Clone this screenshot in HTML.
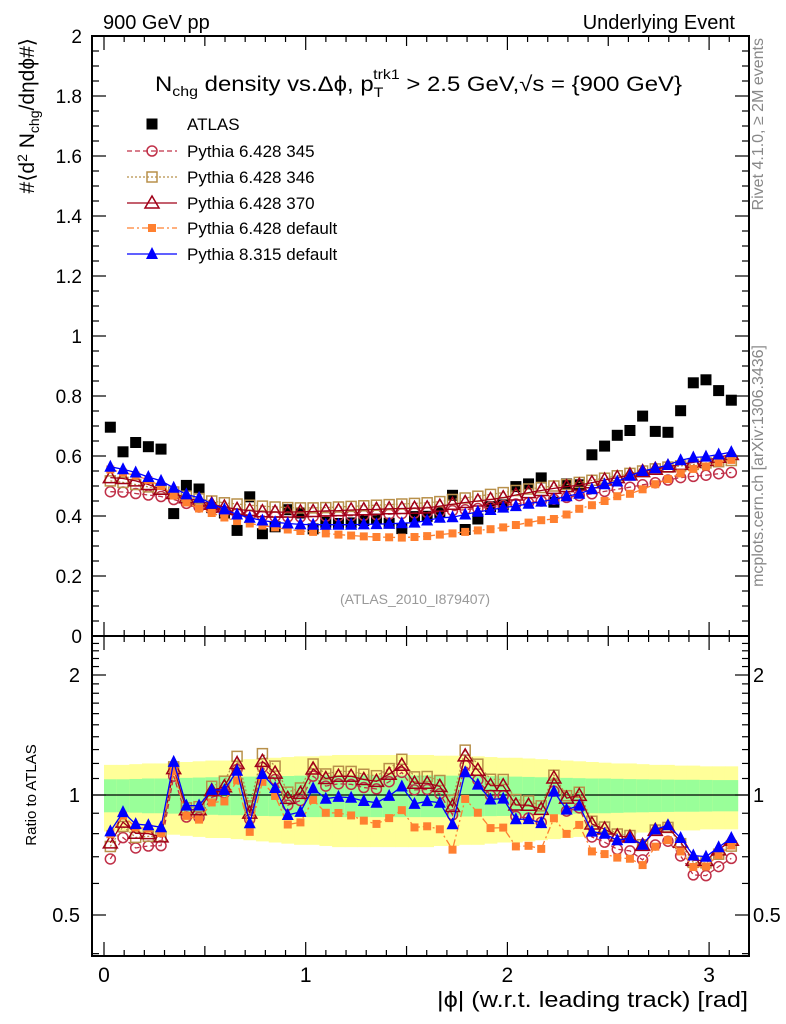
<!DOCTYPE html>
<html><head><meta charset="utf-8"><style>
body{margin:0;background:#fff}
svg{display:block;font-family:"Liberation Sans",sans-serif}
</style></head><body>
<svg id="c" width="786" height="1024" viewBox="0 0 786 1024">
<g id="bands"></g>
<g id="axes"></g>
<g id="series"></g>
<text x="103" y="29" font-size="20">900 GeV pp</text>
<text x="735" y="29" font-size="20" text-anchor="end">Underlying Event</text>
<text x="155" y="91" font-size="21" textLength="527" lengthAdjust="spacingAndGlyphs">N<tspan font-size="14" dy="5">chg</tspan><tspan dy="-5"> density vs.Δϕ, p</tspan><tspan font-size="14" dy="6">T</tspan><tspan font-size="14" dy="-18" dx="-9">trk1</tspan><tspan dy="12"> &gt; 2.5 GeV,√s = {900 GeV}</tspan></text>
<text x="415" y="604" font-size="14" fill="#999" text-anchor="middle">(ATLAS_2010_I879407)</text>
<text transform="translate(34,38) rotate(-90)" font-size="21" text-anchor="end">#⟨d<tspan font-size="14" dy="-7">2</tspan><tspan dy="7"> N</tspan><tspan font-size="14" dy="5">chg</tspan><tspan dy="-5">/dηdϕ#⟩</tspan></text>
<text transform="translate(36,795) rotate(-90)" font-size="15" text-anchor="middle">Ratio to ATLAS</text>
<text transform="translate(763,38) rotate(-90)" font-size="16" fill="#888" text-anchor="end">Rivet 4.1.0, ≥ 2M events</text>
<text transform="translate(763,345) rotate(-90)" font-size="16" fill="#888" text-anchor="end">mcplots.cern.ch [arXiv:1306.3436]</text>
<text x="437" y="1007" font-size="22" textLength="311" lengthAdjust="spacingAndGlyphs">|ϕ| (w.r.t. leading track) [rad]</text>
<g id="legend"></g>
</svg>
<script>
const atlas=[.696,.614,.645,.631,.623,.408,.502,.49,.428,.41,.352,.464,.341,.364,.421,.41,.357,.379,.375,.377,.385,.39,.376,.358,.398,.399,.412,.469,.355,.39,.431,.437,.498,.507,.527,.446,.507,.504,.604,.633,.669,.685,.733,.682,.679,.751,.844,.854,.818,.786];
const p345=[.481,.48,.475,.47,.465,.455,.442,.43,.422,.415,.408,.403,.40,.398,.397,.397,.398,.399,.40,.401,.402,.404,.406,.408,.41,.412,.415,.418,.421,.425,.43,.435,.44,.444,.45,.456,.462,.468,.474,.482,.489,.496,.504,.511,.52,.528,.532,.536,.541,.545];
const p346=[.517,.512,.505,.497,.49,.48,.466,.458,.45,.444,.44,.436,.433,.43,.428,.427,.427,.428,.43,.432,.434,.436,.438,.44,.442,.444,.448,.455,.46,.466,.472,.478,.485,.49,.495,.5,.505,.512,.519,.526,.534,.542,.55,.557,.563,.567,.572,.577,.581,.585];
const p370=[.528,.525,.517,.505,.489,.475,.461,.45,.439,.43,.422,.418,.414,.413,.413,.414,.415,.417,.418,.42,.421,.422,.424,.425,.426,.427,.433,.439,.445,.45,.455,.461,.47,.478,.485,.492,.498,.503,.511,.52,.528,.537,.548,.556,.564,.572,.579,.585,.596,.605];
const p6def=[.555,.545,.535,.52,.5,.468,.445,.425,.41,.395,.383,.375,.368,.362,.355,.35,.347,.342,.338,.335,.332,.33,.329,.328,.33,.333,.338,.342,.347,.352,.356,.362,.37,.378,.386,.39,.405,.424,.436,.45,.466,.474,.489,.506,.523,.542,.557,.565,.579,.587];
const p8def=[.564,.556,.545,.53,.517,.494,.472,.461,.441,.422,.405,.394,.385,.379,.375,.372,.371,.371,.371,.371,.372,.373,.374,.376,.378,.385,.394,.396,.405,.414,.42,.428,.433,.441,.448,.455,.466,.474,.489,.506,.515,.534,.55,.559,.57,.586,.595,.598,.605,.613];
const totErr=[.19,.19,.195,.2,.2,.205,.21,.215,.22,.22,.225,.23,.235,.24,.245,.25,.25,.255,.26,.26,.26,.26,.26,.26,.26,.26,.255,.255,.25,.25,.245,.24,.24,.235,.23,.225,.22,.215,.21,.205,.2,.2,.195,.19,.19,.185,.185,.18,.18,.18];
const statErr=[.095,.095,.097,.1,.1,.102,.104,.106,.108,.11,.11,.112,.114,.115,.116,.118,.12,.12,.12,.12,.12,.12,.12,.12,.12,.12,.12,.118,.117,.116,.115,.114,.112,.11,.108,.106,.104,.102,.1,.1,.098,.096,.095,.094,.093,.092,.092,.091,.09,.09];
const xTicks=[0,1,2,3];
const yTicks=[0,0.2,0.4,0.6,0.8,1,1.2,1.4,1.6,1.8,2];
const rTicks=[0.5,1,2];

const NS="http://www.w3.org/2000/svg";
const L=92,R=749,T=36,MB=636,RB=956;
const N=atlas.length,BW=Math.PI/N;
const X=v=>104+v*201.7;
const Y=v=>MB-v*300;
const YR=r=>795-120*Math.log2(r);
function mk(tag,attrs,parent){const e=document.createElementNS(NS,tag);for(const k in attrs)e.setAttribute(k,attrs[k]);parent.appendChild(e);return e;}
const bands=document.getElementById('bands'),axes=document.getElementById('axes'),ser=document.getElementById('series'),leg=document.getElementById('legend');

for(let i=0;i<N;i++){
  const x0=X(i*BW),x1=X((i+1)*BW);
  const y=mk('rect',{x:x0,y:YR(1+totErr[i]),width:x1-x0+0.5,height:YR(1-totErr[i])-YR(1+totErr[i]),fill:'#ffff99'},bands);
  
  
  const g=mk('rect',{x:x0,y:YR(1+statErr[i]),width:x1-x0+0.5,height:YR(1-statErr[i])-YR(1+statErr[i]),fill:'#99ff99'},bands);
  
  
}
const f1=mk('rect',{x:L,y:T,width:R-L,height:MB-T,fill:'none',stroke:'#000','stroke-width':2},axes);


const f2=mk('rect',{x:L,y:MB,width:R-L,height:RB-MB,fill:'none',stroke:'#000','stroke-width':2},axes);


const one=mk('line',{x1:L,x2:R,y1:YR(1),y2:YR(1),stroke:'#000','stroke-width':1.2},axes);


for(let k=0;k<=32;k++){
  const v=k/10,x=X(v);if(x>R)break;
  const len=(k%10==0)?14:(k%5==0?10:6);
  for(const [yb,dir] of [[T,1],[MB,-1],[MB,1],[RB,-1]]){
    mk('line',{x1:x,x2:x,y1:yb,y2:yb+dir*len,stroke:'#000','stroke-width':1.2},axes);
  }
}
xTicks.forEach(v=>{const t=mk('text',{x:X(v),y:982,'font-size':21,'text-anchor':'middle'},axes);t.textContent=v;
 
 });
for(let k=0;k<=40;k++){
  const v=k*0.05,y=Y(v),len=(k%4==0)?14:7;
  mk('line',{x1:L,x2:L+len,y1:y,y2:y,stroke:'#000','stroke-width':1.2},axes);
  mk('line',{x1:R,x2:R-len,y1:y,y2:y,stroke:'#000','stroke-width':1.2},axes);
}
yTicks.forEach(v=>{const t=mk('text',{x:82,y:Y(v)+7,'font-size':19,'text-anchor':'end'},axes);t.textContent=String(Math.round(v*10)/10);
 
 });
for(let k=4;k<=24;k++){
  const v=k/10,y=YR(v);if(y<MB+2)continue;
  const len=(v==0.5||v==1||v==2)?14:7;
  mk('line',{x1:L,x2:L+len,y1:y,y2:y,stroke:'#000','stroke-width':1.2},axes);
  mk('line',{x1:R,x2:R-len,y1:y,y2:y,stroke:'#000','stroke-width':1.2},axes);
}
rTicks.forEach(v=>{
 const t=mk('text',{x:80,y:YR(v)+7,'font-size':20,'text-anchor':'end'},axes);t.textContent=v;
 
 
 const t2=mk('text',{x:753,y:YR(v)+7,'font-size':20},axes);t2.textContent=v;
 
 });

function marker(type,color,x,y,parent){
  let e;
  if(type=='circle')e=mk('circle',{cx:x,cy:y,r:5,fill:'none',stroke:color,'stroke-width':1.5},parent);
  else if(type=='osq')e=mk('rect',{x:x-5,y:y-5,width:10,height:10,fill:'none',stroke:color,'stroke-width':1.5},parent);
  else if(type=='otri')e=mk('polygon',{points:`${x},${y-7} ${x-7},${y+5} ${x+7},${y+5}`,fill:'none',stroke:color,'stroke-width':1.5},parent);
  else if(type=='fsq')e=mk('rect',{x:x-4,y:y-4,width:8,height:8,fill:color},parent);
  else if(type=='ftri')e=mk('polygon',{points:`${x},${y-7} ${x-6},${y+5} ${x+6},${y+5}`,fill:color},parent);
  else e=mk('rect',{x:x-5.5,y:y-5.5,width:11,height:11,fill:color},parent);
  return e;
}
const sims=[
 {d:p345,name:'Pythia 6.428 345',c:'#c03048',m:'circle',dash:'5,3',key:'pythia6-345'},
 {d:p346,name:'Pythia 6.428 346',c:'#b8904a',m:'osq',dash:'2,2',key:'pythia6-346'},
 {d:p370,name:'Pythia 6.428 370',c:'#a00018',m:'otri',dash:'',key:'pythia6-370'},
 {d:p6def,name:'Pythia 6.428 default',c:'#ff8030',m:'fsq',dash:'7,3,2,3',key:'pythia6-default'},
 {d:p8def,name:'Pythia 8.315 default',c:'#0000ff',m:'ftri',dash:'',key:'pythia8-default'}
];
atlas.forEach((v,i)=>{const e=marker('sq','#000',X((i+0.5)*BW),Y(v),ser);
 
 });
sims.forEach(s=>{
  const g=mk('g',{},ser);
  
  
  const pm=s.d.map((v,i)=>X((i+0.5)*BW)+','+Y(v)).join(' ');
  mk('polyline',{points:pm,fill:'none',stroke:s.c,'stroke-width':1.3,'stroke-dasharray':s.dash},g);
  const pr=s.d.map((v,i)=>X((i+0.5)*BW)+','+YR(v/atlas[i])).join(' ');
  mk('polyline',{points:pr,fill:'none',stroke:s.c,'stroke-width':1.3,'stroke-dasharray':s.dash},g);
  s.d.forEach((v,i)=>{
    const a=marker(s.m,s.c,X((i+0.5)*BW),Y(v),g);
    
    
    const b=marker(s.m,s.c,X((i+0.5)*BW),YR(v/atlas[i]),g);
    
    
  });
});
const ly=[124,151,177,203,228,254];
const la=marker('sq','#000',152,ly[0],leg);


const lt=mk('text',{x:187,y:ly[0]+6,'font-size':17},leg);lt.textContent='ATLAS';


sims.forEach((s,k)=>{
  const y=ly[k+1];
  mk('line',{x1:127,x2:177,y1:y,y2:y,stroke:s.c,'stroke-width':1.3,'stroke-dasharray':s.dash},leg);
  const m=marker(s.m,s.c,152,y,leg);
  
  
  const t=mk('text',{x:187,y:y+6,'font-size':17},leg);t.textContent=s.name;
  
  
});
</script>
</body></html>
